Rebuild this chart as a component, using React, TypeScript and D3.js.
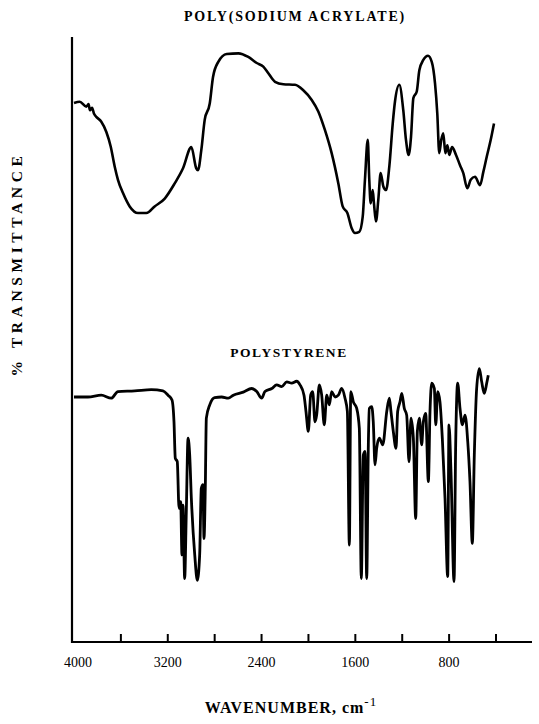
import React from 'react';
import * as d3 from 'd3';

// IR spectra: wavenumber (cm-1) and % transmittance (arbitrary offset)
const saWave = [
  4000, 3951, 3895, 3876, 3864, 3846, 3829, 3810, 3767, 3724,
  3687, 3653, 3625, 3582, 3525, 3454, 3383, 3312, 3226, 3141,
  3070, 2999, 2957, 2942, 2914, 2885, 2842, 2814, 2769, 2697,
  2598, 2513, 2441, 2385, 2342, 2285, 2214, 2115, 2044, 1972,
  1916, 1859, 1802, 1745, 1708, 1668, 1631, 1603, 1566, 1537,
  1518, 1494, 1481, 1469, 1452, 1441, 1424, 1404, 1384, 1361,
  1338, 1310, 1281, 1262, 1225, 1191, 1168, 1145, 1125, 1105,
  1076, 1054, 1020, 980, 948, 920, 901, 884, 867, 850,
  832, 815, 798, 775, 741, 707, 679, 645, 616, 579,
  536, 508, 479, 445, 417,
];
const saTrans = [
  89.1, 89.3, 88.5, 88.9, 87.9, 88.3, 87.3, 86.8, 86.0, 84.3,
  81.9, 78.6, 76.4, 74.2, 72.0, 70.9, 70.9, 72.0, 73.3, 75.8,
  78.3, 81.8, 78.3, 78.0, 81.3, 86.3, 89.0, 93.4, 95.9, 97.2,
  97.3, 96.7, 95.7, 95.1, 94.0, 92.6, 92.2, 92.1, 91.2, 89.6,
  87.7, 84.6, 80.8, 75.8, 72.0, 70.9, 68.4, 67.6, 67.8, 70.3,
  76.4, 83.0, 76.4, 72.5, 74.7, 72.5, 69.5, 73.1, 77.5, 75.3,
  74.7, 78.6, 85.7, 89.3, 92.1, 87.9, 83.0, 80.5, 83.5, 89.9,
  91.0, 94.5, 96.2, 96.9, 95.9, 92.3, 87.4, 80.8, 83.0, 84.1,
  80.8, 82.1, 80.5, 81.8, 80.5, 78.8, 77.5, 75.0, 76.4, 76.9,
  75.5, 77.7, 80.2, 83.0, 85.7,
];

const psWave = [
  4000, 3881, 3767, 3682, 3625, 3482, 3341, 3241, 3198, 3164,
  3147, 3136, 3119, 3104, 3090, 3079, 3070, 3056, 3042, 3027,
  3013, 2999, 2970, 2948, 2928, 2914, 2900, 2891, 2880, 2871,
  2842, 2800, 2740, 2684, 2641, 2556, 2484, 2441, 2399, 2371,
  2313, 2271, 2228, 2185, 2143, 2100, 2072, 2038, 2021, 2001,
  1981, 1964, 1944, 1930, 1907, 1887, 1865, 1844, 1822, 1802,
  1773, 1745, 1716, 1688, 1668, 1651, 1639, 1617, 1588, 1566,
  1549, 1532, 1517, 1503, 1489, 1481, 1460, 1447, 1432, 1418,
  1395, 1366, 1332, 1310, 1296, 1276, 1253, 1239, 1219, 1204,
  1182, 1162, 1142, 1125, 1105, 1085, 1071, 1054, 1034, 1020,
  1000, 977, 963, 948, 926, 914, 897, 878, 858, 835,
  812, 801, 784, 758, 744, 727, 707, 687, 664, 641,
  622, 602, 585, 565, 542, 522, 500, 479, 466,
];
const psTrans = [
  40.5, 40.5, 40.8, 40.3, 41.4, 41.5, 41.7, 41.5, 40.8, 40.0,
  36.4, 30.4, 29.8, 22.1, 23.2, 14.4, 22.6, 10.5, 21.5, 33.7,
  30.9, 23.8, 14.4, 10.2, 14.4, 25.4, 26.0, 17.1, 25.4, 37.0,
  39.2, 40.4, 40.5, 40.3, 40.8, 41.3, 41.9, 41.4, 40.3, 41.4,
  41.9, 42.5, 42.2, 43.0, 42.8, 43.1, 42.5, 40.8, 38.1, 34.8,
  40.8, 41.4, 36.4, 37.5, 42.5, 40.8, 35.9, 40.8, 39.2, 41.4,
  40.5, 40.8, 41.9, 40.3, 38.1, 16.0, 41.4, 39.7, 38.6, 35.3,
  10.5, 30.9, 31.5, 10.5, 32.6, 38.6, 38.9, 36.4, 29.3, 32.0,
  33.7, 32.6, 38.1, 40.3, 38.1, 34.8, 32.0, 38.1, 39.7, 41.1,
  38.6, 37.5, 29.8, 37.0, 33.7, 20.4, 34.8, 37.0, 32.6, 36.4,
  37.8, 26.5, 38.1, 42.8, 41.9, 35.9, 41.4, 39.7, 33.7, 23.8,
  10.8, 35.9, 28.1, 10.0, 32.6, 42.8, 38.6, 35.9, 37.5, 33.1,
  26.5, 16.3, 30.9, 41.9, 45.2, 43.0, 41.1, 42.8, 44.1,
];

const tickValues = [3600, 3200, 2800, 2400, 2000, 1600, 1200, 800, 400];
const labelValues = [4000, 3200, 2400, 1600, 800];

const WIDTH = 539;
const HEIGHT = 724;
const font = '"Liberation Serif", "DejaVu Serif", serif';

export default function App() {
  const x = d3.scaleLinear().domain([4000, 400]).range([74, 496]);
  const y = d3.scaleLinear().domain([0, 100]).range([642, 37]);

  const line = d3
    .line<[number, number]>()
    .x((d) => x(d[0]))
    .y((d) => y(d[1]))
    .curve(d3.curveMonotoneX);

  const saPath = line(saWave.map((w, i) => [w, saTrans[i]]) as [number, number][]);
  const psPath = line(psWave.map((w, i) => [w, psTrans[i]]) as [number, number][]);

  const x0 = x(4000) - 2;
  const y0 = y(0);

  return (
    <svg
      width={WIDTH}
      height={HEIGHT}
      style={{ position: 'absolute', left: 0, top: 0, background: '#fff' }}
    >
      {/* axes */}
      <line x1={x0} y1={y(100)} x2={x0} y2={y0 + 1} stroke="#000" strokeWidth={2.2} />
      <line x1={x0 - 1} y1={y0} x2={532} y2={y0} stroke="#000" strokeWidth={2.2} />
      {tickValues.map((t) => (
        <line key={t} x1={x(t)} x2={x(t)} y1={y0} y2={y0 - 8} stroke="#000" strokeWidth={2} />
      ))}
      {labelValues.map((t) => (
        <text
          key={t}
          x={x(t) + (t === 4000 ? 4 : 0)}
          y={667}
          textAnchor="middle"
          fontFamily={font}
          fontSize={14}
          fill="#000"
        >
          {t}
        </text>
      ))}

      {/* spectra */}
      <path d={saPath ?? ''} fill="none" stroke="#000" strokeWidth={2.6} strokeLinejoin="round" />
      <path d={psPath ?? ''} fill="none" stroke="#000" strokeWidth={2.8} strokeLinejoin="round" />

      {/* titles */}
      <text
        x={295}
        y={21}
        textAnchor="middle"
        fontFamily={font}
        fontWeight="bold"
        fontSize={14}
        letterSpacing={1.8}
      >
        POLY(SODIUM  ACRYLATE)
      </text>
      <text
        x={289}
        y={357}
        textAnchor="middle"
        fontFamily={font}
        fontWeight="bold"
        fontSize={13.5}
        letterSpacing={1.6}
      >
        POLYSTYRENE
      </text>
      <text
        transform={`translate(22, 264) rotate(-90)`}
        textAnchor="middle"
        fontFamily={font}
        fontWeight="bold"
        fontSize={15.5}
        letterSpacing={4.6}
      >
        %  TRANSMITTANCE
      </text>
      <text
        x={291}
        y={713}
        textAnchor="middle"
        fontFamily={font}
        fontWeight="bold"
        fontSize={16}
        letterSpacing={1}
      >
        WAVENUMBER,  cm
        <tspan dy={-7} fontSize={13} fontWeight="normal">
          -1
        </tspan>
      </text>
    </svg>
  );
}
